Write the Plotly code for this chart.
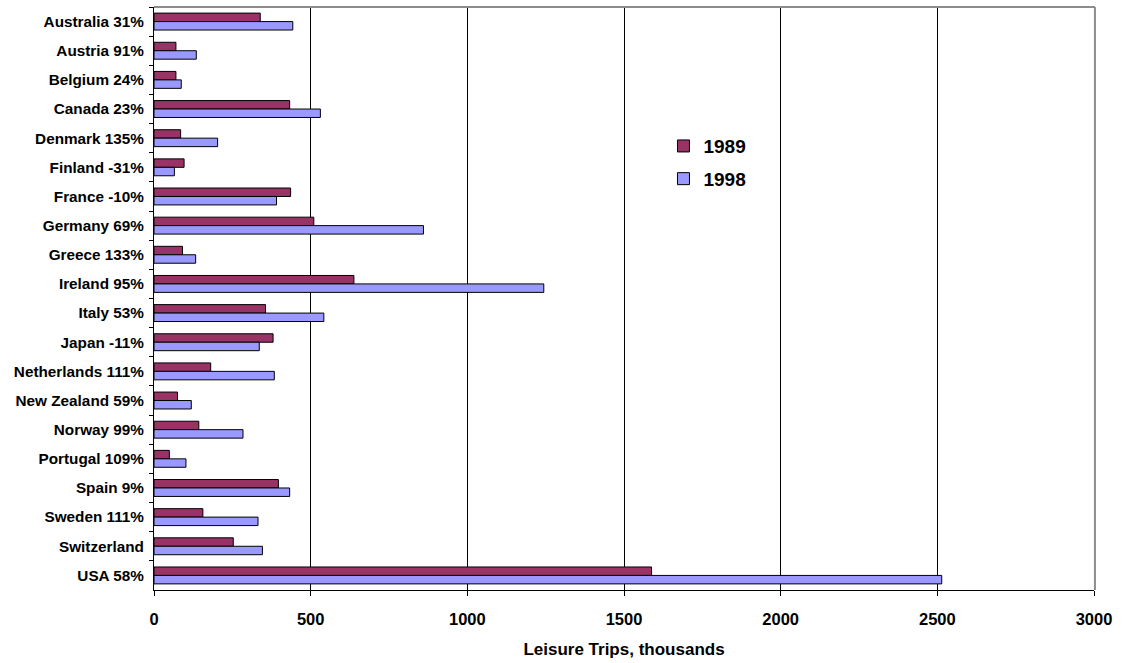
import plotly.graph_objects as go

# Countries with the percentage change 1989 -> 1998
countries = [
    "Australia 31%", "Austria 91%", "Belgium 24%", "Canada 23%", "Denmark 135%",
    "Finland -31%", "France -10%", "Germany 69%", "Greece 133%", "Ireland 95%",
    "Italy 53%", "Japan -11%", "Netherlands 111%", "New Zealand 59%", "Norway 99%",
    "Portugal 109%", "Spain 9%", "Sweden 111%", "Switzerland", "USA 58%",
]

# Leisure trips, thousands
trips_1989 = [339, 70, 70, 433, 85, 96, 436, 510, 91, 638,
              356, 380, 181, 75, 143, 49, 397, 156, 253, 1588]
trips_1998 = [443, 135, 87, 531, 203, 65, 391, 860, 133, 1244,
              542, 336, 384, 119, 284, 102, 433, 332, 346, 2514]

x_ticks = [0, 500, 1000, 1500, 2000, 2500, 3000]

FONT = "Liberation Sans, Arial, sans-serif"

fig = go.Figure()
fig.add_trace(go.Bar(
    y=countries, x=trips_1989, name="1989", orientation="h",
    marker=dict(color="#993366", line=dict(color="#000000", width=1)),
    legendgroup="a",
))
fig.add_trace(go.Bar(
    y=countries, x=trips_1998, name="1998", orientation="h",
    marker=dict(color="#9999FF", line=dict(color="#000000", width=1)),
    legendgroup="b",
))

fig.update_layout(
    width=1123, height=663,
    margin=dict(l=154, r=29, t=7, b=69),
    paper_bgcolor="white", plot_bgcolor="white",
    barmode="group", bargap=0.42, bargroupgap=0,
    font=dict(family=FONT, size=15.3, color="#000000", weight="bold"),
    showlegend=True,
    legend=dict(
        x=0.542, y=0.794, xanchor="left", yanchor="top",
        font=dict(family=FONT, size=19, color="#000000", weight="bold"),
        bgcolor="rgba(0,0,0,0)", traceorder="grouped", tracegroupgap=5,
    ),
    xaxis=dict(
        range=[0, 3000], tickvals=x_ticks, ticktext=[str(v) for v in x_ticks],
        tickfont=dict(family=FONT, size=16.5, weight="bold"),
        showgrid=True, gridcolor="#000000", gridwidth=1,
        showline=True, linecolor="#000000", linewidth=1,
        ticks="outside", ticklen=5, tickcolor="#000000",
        ticklabelstandoff=9, zeroline=False,
        title=dict(text="Leisure Trips, thousands",
                   font=dict(family=FONT, size=17, weight="bold"), standoff=16),
    ),
    yaxis=dict(
        autorange="reversed", showgrid=False,
        showline=True, linecolor="#000000", linewidth=1,
        ticks="outside", ticklen=4, tickcolor="#000000", tickson="boundaries",
        ticklabelstandoff=6,
    ),
    shapes=[
        dict(type="line", xref="paper", yref="paper", x0=0, x1=1.001, y0=1, y1=1,
             line=dict(color="#8c8c8c", width=2)),
        dict(type="line", xref="paper", yref="paper", x0=1.001, x1=1.001, y0=0, y1=1,
             line=dict(color="#8c8c8c", width=2)),
    ],
)

fig.write_html("out.html")
